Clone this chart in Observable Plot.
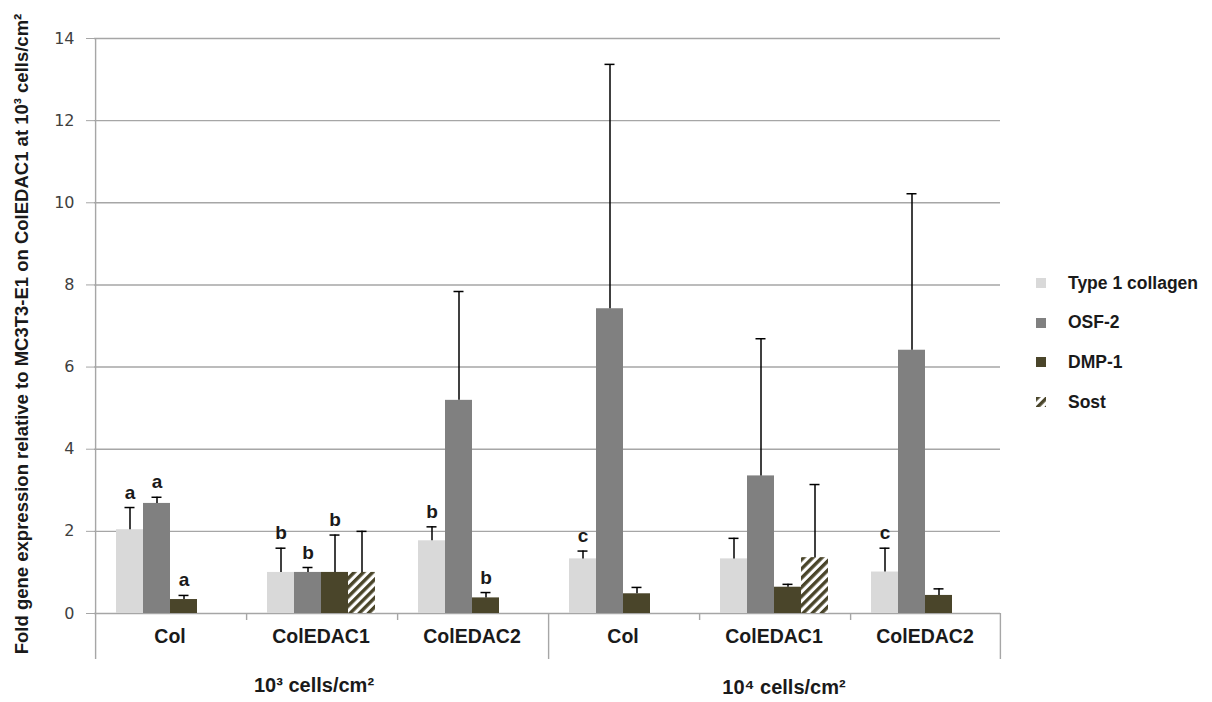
<!DOCTYPE html>
<html><head><meta charset="utf-8">
<script src="https://cdn.jsdelivr.net/npm/d3@7"></script>
<script src="https://cdn.jsdelivr.net/npm/@observablehq/plot@0.6"></script>
<style>
body{margin:0;background:#fff;}
#wrap{position:relative;width:1212px;height:702px;}
#legend{position:absolute;left:1036px;top:273px;font-family:"Liberation Sans",Arial,sans-serif;font-weight:bold;font-size:17.5px;color:#1a1a1a;}
.item{position:absolute;left:0;height:20px;display:flex;align-items:center;white-space:nowrap;}
.sw{width:10px;height:10px;margin-right:22px;flex:none;}
</style></head>
<body>
<svg width="0" height="0" style="position:absolute"><defs>
<pattern id="sostHatch" patternUnits="userSpaceOnUse" width="6.5" height="6.5" patternTransform="rotate(45)">
<rect width="6.5" height="6.5" fill="#ffffff"/><rect width="3.4" height="6.5" fill="#4a452a"/></pattern>
</defs></svg>
<div id="wrap"><div id="legend"></div></div>
<script>
// ---- data ----
const densities = ["10³ cells/cm²", "10⁴ cells/cm²"];
const substrates = ["Col", "ColEDAC1", "ColEDAC2"];
const genes = ["Type 1 collagen", "OSF-2", "DMP-1", "Sost"];
const yTicks = [0, 2, 4, 6, 8, 10, 12, 14];
const yTitle = "Fold gene expression relative to MC3T3-E1 on ColEDAC1 at 10³ cells/cm²";

// groups in order: 10³ Col, 10³ ColEDAC1, 10³ ColEDAC2, 10⁴ Col, 10⁴ ColEDAC1, 10⁴ ColEDAC2
const type1      = [2.04, 1.00, 1.77, 1.33, 1.33, 1.01];
const type1Err   = [0.54, 0.59, 0.34, 0.19, 0.50, 0.58];
const osf2       = [2.68, 1.00, 5.19, 7.42, 3.35, 6.41];
const osf2Err    = [0.15, 0.12, 2.65, 5.95, 3.34, 3.81];
const dmp1       = [0.34, 1.00, 0.38, 0.48, 0.64, 0.44];
const dmp1Err    = [0.10, 0.91, 0.13, 0.155, 0.07, 0.16];
const sost       = [null, 1.00, null, null, 1.36, null];
const sostErr    = [null, 1.00, null, null, 1.78, null];
const type1Letters = ["a", "b", "b", "c", "", "c"];
const osf2Letters  = ["a", "b", "", "", "", ""];
const dmp1Letters  = ["a", "b", "b", "", "", ""];
const sostLetters  = ["", "", "", "", "", ""];

const geneFills = ["#d9d9d9", "#808080", "#4a452a", "url(#sostHatch)"];

// ---- table built from arrays ----
const keys = densities.flatMap(d => substrates.map(s => d + "|" + s));
const valueSeries = [type1, osf2, dmp1, sost];
const errSeries = [type1Err, osf2Err, dmp1Err, sostErr];
const letterSeries = [type1Letters, osf2Letters, dmp1Letters, sostLetters];
const rows = [];
keys.forEach((k, gi) => genes.forEach((g, j) => {
  const v = valueSeries[j][gi];
  if (v != null) rows.push({key: k, gene: g, value: v, err: errSeries[j][gi], letter: letterSeries[j][gi]});
}));
const groupLabels = keys.map((k, i) => ({key: k, name: substrates[i % substrates.length]}));

const W = 1212, H = 702, ML = 93, MR = 211, MT = 38, MB = 89;
const padOuter = 0.75;
const step = ((W - ML - MR) / keys.length) / (genes.length + 2 * padOuter);
const off = (padOuter + 0.5) * step;
const gridColor = "#a6a6a6";
const lab = {fontFamily: "Liberation Sans, Arial, sans-serif", fontWeight: "bold", fill: "#1a1a1a"};

const plot = Plot.plot({
  width: W, height: H, marginLeft: ML, marginRight: MR, marginTop: MT, marginBottom: MB,
  style: {fontFamily: "DejaVu Sans, sans-serif", fontSize: "16px", color: "#404040", background: "transparent", overflow: "visible"},
  fx: {domain: keys, padding: 0, axis: null},
  x: {domain: genes, paddingInner: 0, paddingOuter: padOuter, axis: null},
  y: {domain: [0, 14], axis: null},
  color: {domain: genes, range: geneFills},
  marks: [
    Plot.ruleY(yTicks, {stroke: gridColor, strokeWidth: 1.4}),
    Plot.axisY({ticks: yTicks, tickSize: 8, tickPadding: 12, stroke: gridColor, fill: "#404040", label: null}),
    // axis line and group separators
    Plot.ruleX([{fx: keys[0], x: genes[0]}], {fx: "fx", x: "x", dx: -off, y1: 14, y2: 0, insetBottom: -46, stroke: gridColor, strokeWidth: 1.4}),
    Plot.ruleX([keys[1], keys[2], keys[4], keys[5]].map(k => ({fx: k, x: genes[0]})), {fx: "fx", x: "x", dx: -off, y1: 0, y2: 0, insetBottom: -7, stroke: gridColor, strokeWidth: 1.4}),
    Plot.ruleX([{fx: keys[3], x: genes[0]}], {fx: "fx", x: "x", dx: -off, y1: 0, y2: 0, insetBottom: -46, stroke: gridColor, strokeWidth: 1.4}),
    Plot.ruleX([{fx: keys[5], x: genes[genes.length - 1]}], {fx: "fx", x: "x", dx: off, y1: 0, y2: 0, insetBottom: -46, stroke: gridColor, strokeWidth: 1.4}),
    // bars
    Plot.barY(rows, {fx: "key", x: "gene", y: "value", fill: "gene"}),
    // error bars
    Plot.ruleX(rows, {fx: "key", x: "gene", y1: "value", y2: d => d.value + d.err, stroke: "#000", strokeWidth: 1.5}),
    Plot.tickY(rows, {fx: "key", x: "gene", y: d => d.value + d.err, insetLeft: 8.5, insetRight: 8.5, stroke: "#000", strokeWidth: 1.5}),
    // significance letters
    Plot.text(rows.filter(d => d.letter), {fx: "key", x: "gene", y: d => d.value + d.err, text: "letter", lineAnchor: "bottom", dy: -9, fontSize: 19, ...lab}),
    // group labels
    Plot.text(groupLabels, {fx: "key", text: "name", frameAnchor: "bottom", dy: 29, fontSize: 19.5, ...lab}),
    Plot.text([{key: keys[1], label: densities[0]}], {fx: "key", text: "label", frameAnchor: "bottom", dy: 78, dx: -7, fontSize: 20, ...lab}),
    Plot.text([{key: keys[4], label: densities[1]}], {fx: "key", text: "label", frameAnchor: "bottom", dy: 80, dx: 10, fontSize: 20, ...lab}),
    // y title
    Plot.text([yTitle], {fx: () => keys[0], text: d => d, frameAnchor: "left", textAnchor: "middle", rotate: -90, dx: -72, dy: 8, fontSize: 18.5, ...lab})
  ]
});
document.getElementById("wrap").appendChild(plot);

// legend
const legend = document.getElementById("legend");
genes.forEach((g, i) => {
  const item = document.createElement("div");
  item.className = "item";
  item.style.top = (i * 39.7) + "px";
  item.innerHTML = `<svg class="sw" width="10" height="10"><rect width="10" height="10" fill="${geneFills[i]}"/></svg><span>${g}</span>`;
  legend.appendChild(item);
});
</script>
</body></html>
